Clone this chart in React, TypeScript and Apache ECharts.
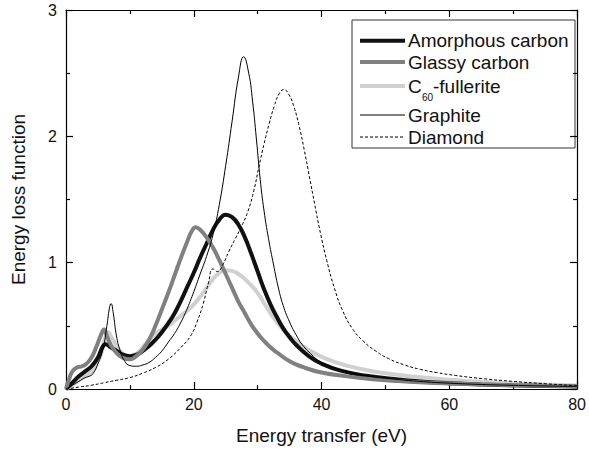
import React, { useEffect, useRef } from "react";
import * as echarts from "echarts";

// Energy transfer (eV) vs energy loss function
const amorphous: [number, number][] = [
  [0, 0], [1, 0.05], [2, 0.1], [3, 0.14], [4, 0.18], [5, 0.25], [5.7, 0.33], [6.2, 0.355], [7, 0.33], [8, 0.3],
  [9, 0.27], [10, 0.26], [11, 0.27], [12, 0.3], [13, 0.34], [14, 0.39], [15, 0.45], [16, 0.52], [17, 0.6],
  [18, 0.7], [19, 0.81], [20, 0.92], [21, 1.04], [22, 1.15], [23, 1.26], [24, 1.34], [25, 1.38], [26, 1.36],
  [27, 1.3], [28, 1.2], [29, 1.07], [30, 0.93], [31, 0.79], [32, 0.67], [33, 0.57], [34, 0.48], [35, 0.41],
  [36, 0.35], [38, 0.26], [40, 0.2], [43, 0.145], [47, 0.105], [52, 0.075], [56, 0.058], [60, 0.046],
  [65, 0.036], [70, 0.029], [75, 0.024], [80, 0.02],
];
const glassy: [number, number][] = [
  [0, 0], [0.5, 0.08], [1, 0.14], [1.7, 0.17], [2.5, 0.18], [3.2, 0.2], [4, 0.25], [4.8, 0.34], [5.5, 0.43],
  [5.95, 0.47], [6.4, 0.42], [7, 0.35], [8, 0.28], [9, 0.245], [10, 0.235], [11, 0.26], [12, 0.31], [13, 0.39],
  [14, 0.5], [15, 0.63], [16, 0.76], [17, 0.9], [18, 1.04], [19, 1.17], [19.7, 1.25], [20.3, 1.28], [21, 1.26],
  [22, 1.2], [23, 1.12], [24, 1.02], [25, 0.91], [26, 0.8], [27, 0.69], [28, 0.6], [29, 0.51], [30, 0.44],
  [31, 0.38], [32, 0.33], [33, 0.29], [35, 0.22], [37, 0.175], [40, 0.13], [44, 0.1], [48, 0.078], [52, 0.063],
  [56, 0.052], [60, 0.044], [65, 0.036], [70, 0.03], [75, 0.025], [80, 0.021],
];
const fullerite: [number, number][] = [
  [0, 0], [1, 0.03], [2, 0.07], [3, 0.1], [4, 0.14], [5, 0.22], [5.6, 0.3], [6.2, 0.42], [6.6, 0.45],
  [7.1, 0.41], [7.6, 0.37], [8.5, 0.3], [9.7, 0.26], [11, 0.28], [12, 0.33], [13, 0.39], [14, 0.44], [15, 0.47],
  [16, 0.5], [17, 0.54], [18, 0.58], [19, 0.62], [20, 0.67], [21, 0.73], [22, 0.8], [23, 0.87], [24, 0.92],
  [25, 0.94], [26, 0.935], [27, 0.91], [28, 0.87], [29, 0.82], [30, 0.76], [31, 0.68], [32, 0.6], [33, 0.53],
  [34, 0.47], [35, 0.42], [37, 0.34], [39, 0.28], [42, 0.215], [46, 0.16], [50, 0.125], [55, 0.095],
  [60, 0.074], [65, 0.057], [70, 0.045], [75, 0.035], [80, 0.028],
];
const graphite: [number, number][] = [
  [0, 0], [1, 0.03], [2, 0.06], [3, 0.09], [3.6, 0.1], [4.2, 0.12], [5, 0.2], [5.8, 0.32], [6.4, 0.5],
  [6.8, 0.64], [7.05, 0.676], [7.4, 0.6], [7.9, 0.42], [8.5, 0.3], [9.2, 0.22], [10, 0.185], [11, 0.18],
  [12, 0.19], [13, 0.21], [14, 0.25], [15, 0.3], [16, 0.37], [17, 0.44], [18, 0.53], [19, 0.64], [20, 0.77],
  [21, 0.91], [22, 1.05], [23, 1.22], [24, 1.46], [25, 1.77], [26, 2.12], [27, 2.47], [27.8, 2.63], [28.6, 2.5],
  [29.2, 2.28], [29.8, 1.98], [30.4, 1.66], [31, 1.41], [31.7, 1.19], [32.5, 0.98], [33.2, 0.81], [34, 0.66],
  [35, 0.53], [36, 0.43], [37, 0.35], [38.5, 0.27], [40, 0.21], [43, 0.15], [47, 0.105], [52, 0.075],
  [56, 0.058], [60, 0.046], [65, 0.036], [70, 0.029], [75, 0.024], [80, 0.02],
];
const diamond: [number, number][] = [
  [0, 0], [2, 0.015], [4, 0.03], [6, 0.05], [8, 0.07], [10, 0.09], [12, 0.125], [14, 0.17], [16, 0.235],
  [18, 0.33], [19.5, 0.42], [20.5, 0.53], [21.5, 0.68], [22.3, 0.84], [23, 0.95], [23.7, 0.93], [24.5, 0.98],
  [25.5, 1.09], [26.5, 1.19], [27.5, 1.29], [28.5, 1.41], [29.4, 1.57], [30.2, 1.76], [31, 1.94], [31.8, 2.1],
  [32.6, 2.24], [33.4, 2.34], [34.1, 2.37], [34.9, 2.33], [35.7, 2.23], [36.5, 2.08], [37.3, 1.89], [38.1, 1.68],
  [38.9, 1.47], [39.8, 1.24], [40.8, 1.02], [42, 0.8], [43.3, 0.62], [44.8, 0.48], [46.5, 0.38], [48.5, 0.3],
  [50.5, 0.24], [53, 0.19], [55.5, 0.155], [58, 0.13], [61, 0.107], [65, 0.083], [70, 0.06], [75, 0.042],
  [80, 0.025],
];

const xTicks = { min: 0, max: 80, interval: 20 };
const yTicks = { min: 0, max: 3, interval: 1 };

const FONT = "Liberation Sans, Arial, sans-serif";

export default function App() {
  const ref = useRef<HTMLDivElement>(null);
  useEffect(() => {
    if (!ref.current) return;
    const chart = echarts.init(ref.current, undefined, { renderer: "svg" });
    const axisCommon = {
      axisLine: { show: true, onZero: false, lineStyle: { color: "#000", width: 1.2 } },
      axisTick: { show: true, inside: true, length: 7, lineStyle: { color: "#000", width: 1.2 } },
      minorTick: { show: true, splitNumber: 2, length: 4, lineStyle: { color: "#000", width: 1.2 } },
      splitLine: { show: false },
    };
    const labelStyle = { color: "#111", fontSize: 16, fontFamily: FONT };
    const lineS = (name: string, data: [number, number][], color: string, width: number, type: any = "solid", z = 2) => ({
      name,
      type: "line",
      data,
      showSymbol: false,
      symbol: "none",
      smooth: 0.5,
      z,
      lineStyle: { color, width, type },
    });
    const legendText = (x: number, y: number, text: string, size = 19) => ({
      type: "text", x, y,
      style: { text, fontSize: size, fontFamily: FONT, fill: "#111", verticalAlign: "middle" },
    });
    chart.setOption({
      animation: false,
      backgroundColor: "#fff",
      grid: { left: 66, right: 8, top: 10, bottom: 60 },
      xAxis: [
        {
          type: "value", ...xTicks, position: "bottom", ...axisCommon,
          axisLabel: { ...labelStyle, margin: 7 },
          name: "Energy transfer (eV)", nameLocation: "middle", nameGap: 37,
          nameTextStyle: { color: "#111", fontSize: 19, fontFamily: FONT },
        },
        { type: "value", ...xTicks, position: "top", ...axisCommon, axisLabel: { show: false } },
      ],
      yAxis: [
        {
          type: "value", ...yTicks, position: "left", ...axisCommon,
          axisLabel: { ...labelStyle, margin: 9 },
          name: "Energy loss function", nameLocation: "middle", nameGap: 38, nameRotate: 90,
          nameTextStyle: { color: "#111", fontSize: 19, fontFamily: FONT },
        },
        { type: "value", ...yTicks, position: "right", ...axisCommon, axisLabel: { show: false } },
      ],
      series: [
        lineS("C60-fullerite", fullerite, "#d0d0d0", 4, "solid", 2),
        lineS("Amorphous carbon", amorphous, "#111111", 4, "solid", 3),
        lineS("Glassy carbon", glassy, "#808080", 4, "solid", 4),
        lineS("Graphite", graphite, "#000000", 1, "solid", 5),
        lineS("Diamond", diamond, "#000000", 1, [3, 2], 6),
      ],
      graphic: [
        {
          type: "group", z: 100,
          children: [
            { type: "rect", shape: { x: 352, y: 20, width: 223, height: 128 }, style: { fill: "#fff", stroke: "#333", lineWidth: 1 } },
            { type: "line", shape: { x1: 360, y1: 40.7, x2: 405, y2: 40.7 }, style: { stroke: "#111", lineWidth: 4 } },
            { type: "line", shape: { x1: 360, y1: 62, x2: 405, y2: 62 }, style: { stroke: "#808080", lineWidth: 4 } },
            { type: "line", shape: { x1: 360, y1: 86, x2: 405, y2: 86 }, style: { stroke: "#d0d0d0", lineWidth: 4 } },
            { type: "line", shape: { x1: 360, y1: 115, x2: 405, y2: 115 }, style: { stroke: "#000", lineWidth: 1 } },
            { type: "line", shape: { x1: 360, y1: 137, x2: 405, y2: 137 }, style: { stroke: "#000", lineWidth: 1, lineDash: [3, 2] } },
            legendText(408, 40.7, "Amorphous carbon"),
            legendText(408, 62, "Glassy carbon"),
            legendText(408, 86, "C"),
            legendText(422, 97, "60", 10),
            legendText(433, 86, "-fullerite"),
            legendText(408, 115, "Graphite"),
            legendText(408, 137, "Diamond"),
          ],
        },
      ],
    });
    return () => chart.dispose();
  }, []);
  return <div ref={ref} style={{ position: "fixed", left: 0, top: 0, width: 589, height: 450 }} />;
}
